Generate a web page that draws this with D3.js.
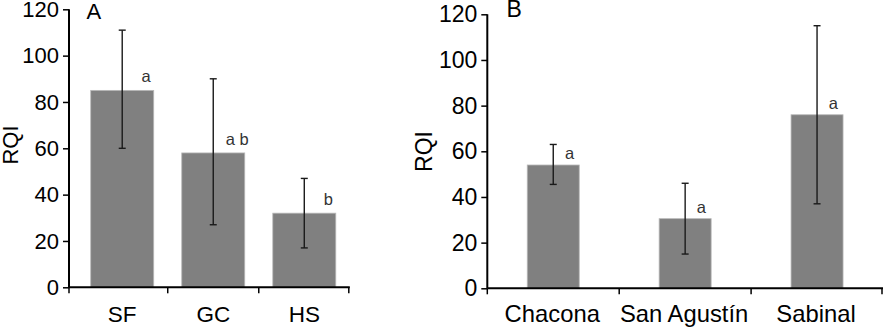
<!DOCTYPE html>
<html>
<head>
<meta charset="utf-8">
<script src="https://cdn.jsdelivr.net/npm/d3@7"></script>
<style>
  body { margin: 0; background: #fff; }
  svg { font-family: "Liberation Sans", Arial, sans-serif; }
</style>
</head>
<body>
<div id="chart"></div>
<script>
const yTicks = [0, 20, 40, 60, 80, 100, 120];

const catsA = ["SF", "GC", "HS"];
const meanA = [85, 58, 32];
const hiA = [111, 90, 47];
const loA = [60, 27, 17];
const lettersA = ["a", "a b", "b"];

const catsB = ["Chacona", "San Agustín", "Sabinal"];
const meanB = [54, 30.5, 76];
const hiB = [63, 46, 115];
const loB = [45.5, 15, 37];
const lettersB = ["a", "a", "a"];

const svg = d3.select("#chart").append("svg")
    .attr("width", 883)
    .attr("height", 327);

function drawPanel(p) {
    const g = svg.append("g");
    const y = d3.scaleLinear().domain([0, 120]).range([p.y0, p.y1]);
    const x = d3.scaleBand().domain(p.cats).range(p.xr);

    const data = p.cats.map((c, i) => ({ c, m: p.mean[i], hi: p.hi[i], lo: p.lo[i], l: p.letters[i] }));
    const cx = d => x(d.c) + x.bandwidth() / 2;

    // bars
    g.selectAll(".bar")
        .data(data)
        .enter()
        .append("rect")
        .attr("x", d => cx(d) - p.bw / 2)
        .attr("y", d => y(d.m))
        .attr("width", p.bw)
        .attr("height", d => y(0) - y(d.m))
        .attr("fill", "#808080")
        .attr("stroke", "#b8b8b8")
        .attr("stroke-width", 0.8);

    // error bars
    const eb = g.selectAll(".eb")
        .data(data)
        .enter()
        .append("g")
        .attr("stroke", "#1a1a1a")
        .attr("stroke-width", 1.4);
    eb.append("line")
        .attr("x1", cx).attr("x2", cx)
        .attr("y1", d => y(d.hi)).attr("y2", d => y(d.lo));
    eb.append("line")
        .attr("x1", d => cx(d) - 3.5).attr("x2", d => cx(d) + 3.5)
        .attr("y1", d => y(d.hi)).attr("y2", d => y(d.hi));
    eb.append("line")
        .attr("x1", d => cx(d) - 3.5).attr("x2", d => cx(d) + 3.5)
        .attr("y1", d => y(d.lo)).attr("y2", d => y(d.lo));

    // significance letters
    g.selectAll(".let")
        .data(data)
        .enter()
        .append("text")
        .attr("x", d => cx(d) + p.ldx)
        .attr("y", d => y(d.m) - p.ldy)
        .attr("text-anchor", "middle")
        .style("font-size", "16.5px")
        .style("fill", "#333")
        .text(d => d.l);

    // y axis
    const ya = g.append("g")
        .attr("transform", `translate(${p.ax},0)`)
        .call(d3.axisLeft(y).tickValues(yTicks).tickSize(6).tickPadding(4));
    ya.attr("font-family", null).attr("font-size", null);
    ya.select(".domain").attr("stroke", "#000").attr("stroke-width", 2)
        .attr("d", `M-0,${p.y1}V${p.y0}`);
    ya.selectAll(".tick line").attr("stroke", "#000").attr("stroke-width", 1.5);
    ya.selectAll(".tick text")
        .style("font-size", p.fs + "px")
        .style("fill", "#000");

    // x axis
    const xEnd = p.xr[1];
    g.append("line")
        .attr("x1", p.ax).attr("x2", xEnd)
        .attr("y1", y(0)).attr("y2", y(0))
        .attr("stroke", "#000").attr("stroke-width", 2);
    const tx = [p.ax].concat(p.cats.slice(1).map(c => x(c))).concat([xEnd - 1]);
    g.selectAll(".xt")
        .data(tx)
        .enter()
        .append("line")
        .attr("x1", d => d).attr("x2", d => d)
        .attr("y1", y(0)).attr("y2", y(0) + 6)
        .attr("stroke", "#000").attr("stroke-width", 1.5);
    g.selectAll(".xl")
        .data(data)
        .enter()
        .append("text")
        .attr("x", d => cx(d) + p.xldx)
        .attr("y", 321.5)
        .attr("text-anchor", "middle")
        .style("font-size", p.xfs + "px")
        .text(d => d.c);

    // axis title
    g.append("text")
        .attr("transform", `translate(${p.tx},${p.ty}) rotate(-90)`)
        .attr("text-anchor", "middle")
        .style("font-size", p.fs + "px")
        .text("RQI");

    // panel label
    g.append("text")
        .attr("x", p.px)
        .attr("y", p.py)
        .style("font-size", p.fs + "px")
        .text(p.label);
}

drawPanel({
    cats: catsA, mean: meanA, hi: hiA, lo: loA, letters: lettersA,
    y0: 287.3, y1: 9.3, xr: [76.7, 349.8], ax: 69, bw: 63,
    fs: 22, xfs: 22.5,
    ldx: 24, ldy: 8, xldx: 0, tx: 18, ty: 145, px: 86.5, py: 18.5, label: "A"
});

drawPanel({
    cats: catsB, mean: meanB, hi: hiB, lo: loB, letters: lettersB,
    y0: 288.3, y1: 14.3, xr: [487.3, 883], ax: 487.3, bw: 52,
    fs: 23, xfs: 23.8,
    ldx: 16.3, ldy: 6, xldx: -1, tx: 431.5, ty: 151.5, px: 506.5, py: 16.5, label: "B"
});
</script>
</body>
</html>
